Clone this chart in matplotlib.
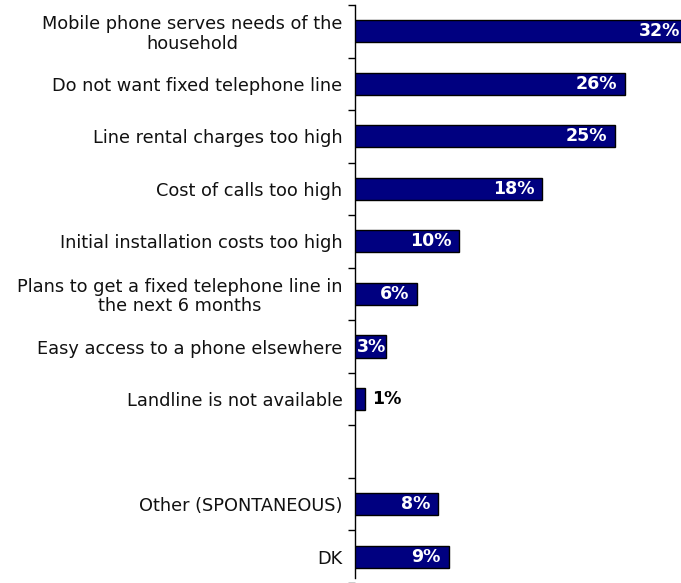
import numpy as np
import matplotlib
matplotlib.use("Agg")
import matplotlib.pyplot as plt


categories = [
    "Mobile phone serves needs of the\nhousehold",
    "Do not want fixed telephone line",
    "Line rental charges too high",
    "Cost of calls too high",
    "Initial installation costs too high",
    "Plans to get a fixed telephone line in\nthe next 6 months",
    "Easy access to a phone elsewhere",
    "Landline is not available",
    "Other (SPONTANEOUS)",
    "DK",
]
values = [32, 26, 25, 18, 10, 6, 3, 1, 8, 9]
value_labels = ["32%", "26%", "25%", "18%", "10%", "6%", "3%", "1%", "8%", "9%"]

BAR_COLOR = "#000080"
GAP_AFTER = 8      # an empty row sits before "Other"
XMAX = 31.35


def main():
    fig = plt.figure(figsize=(6.81, 5.83), dpi=100)
    ax = fig.add_axes([355 / 681, 0, 1 - 355 / 681, 1])

    pos = np.array([i if i < GAP_AFTER else i + 1 for i in range(len(values))])
    n_slots = len(values) + 1

    ax.barh(pos, values, height=0.42, color=BAR_COLOR, edgecolor="black",
            linewidth=1.0, zorder=3)

    for y, v, lab in zip(pos, values, value_labels):
        style = dict(va="center", fontsize=12.5, fontweight="bold", zorder=4)
        if v >= 5:
            ax.text(v - 0.75, y, lab, ha="right", color="white", **style)
        elif v >= 2:
            # too short to hold the label: start it at the bar's base
            ax.text(0.2, y, lab, ha="left", color="white", **style)
        else:
            ax.text(v + 0.6, y, lab, ha="left", color="black", **style)

    ax.set_xlim(0, XMAX)
    top = -0.5 - 5 / 53
    bottom = top + 583 / 53
    ax.set_ylim(bottom, top)

    ax.set_yticks(pos)
    ax.set_yticklabels(categories, fontsize=12.8, multialignment="center",
                       linespacing=1.1, color="#111111")
    ax.tick_params(axis="y", which="major", length=0, pad=9)
    ax.set_yticks(np.arange(n_slots + 1) - 0.5, minor=True)
    ax.tick_params(axis="y", which="minor", length=5, width=1, color="black")
    ax.set_xticks([])

    for side in ("top", "right", "bottom"):
        ax.spines[side].set_visible(False)
    ax.spines["left"].set_linewidth(1.0)
    ax.spines["left"].set_bounds(-0.5, bottom)

    fig.savefig("out.png", dpi=100)


if __name__ == "__main__":
    main()
